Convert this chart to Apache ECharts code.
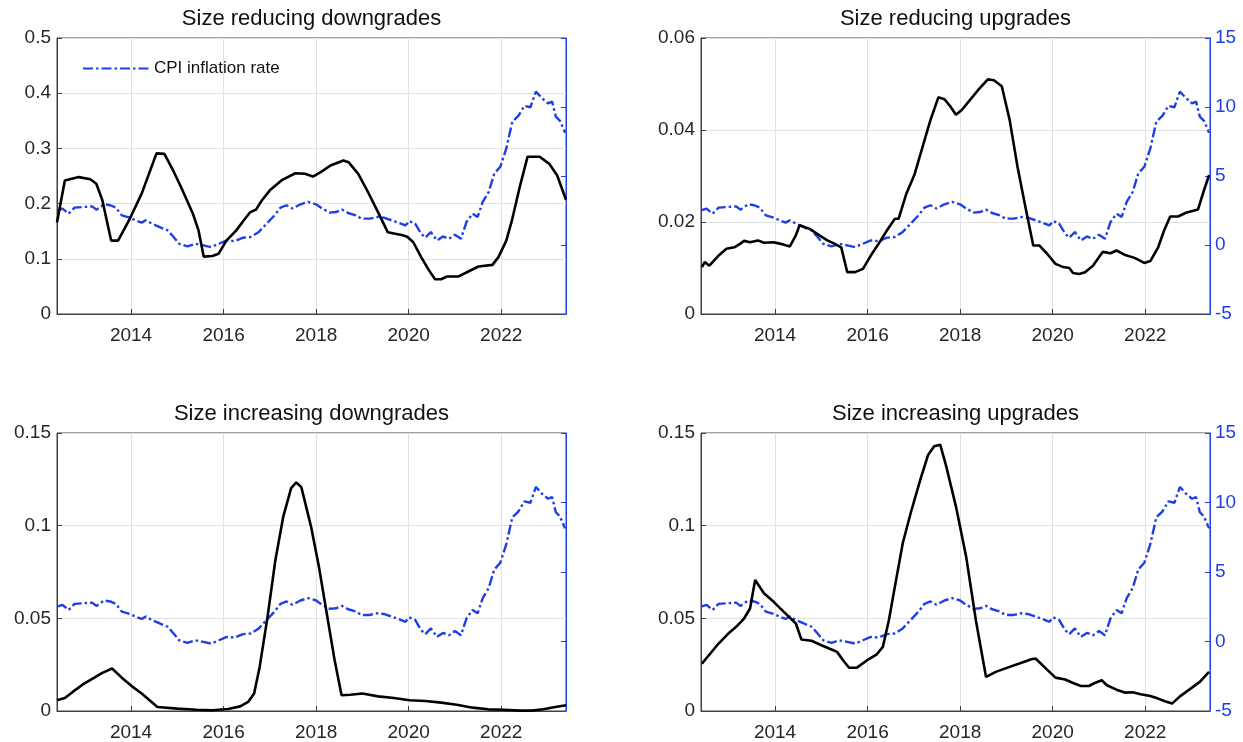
<!DOCTYPE html>
<html><head><meta charset="utf-8">
<script src="https://cdn.jsdelivr.net/npm/echarts@6/dist/echarts.min.js"></script>
<style>html,body{margin:0;padding:0;background:#fff}#c{width:1243px;height:742px}</style>
</head><body><div id="c"></div><script>
// ---- data ----
const yearTicks = [2014, 2016, 2018, 2020, 2022];
const titles = ['Size reducing downgrades', 'Size reducing upgrades', 'Size increasing downgrades', 'Size increasing upgrades'];
const cpiName = 'CPI inflation rate';

const cpiX = [2012.42,2012.52,2012.65,2012.78,2012.99,2013.16,2013.25,2013.42,2013.55,2013.67,2013.80,2013.97,2014.10,2014.23,2014.32,2014.45,2014.62,2014.79,2014.92,2015.04,2015.22,2015.39,2015.56,2015.73,2015.90,2016.07,2016.24,2016.42,2016.59,2016.76,2016.93,2017.10,2017.23,2017.36,2017.49,2017.66,2017.83,2018.00,2018.13,2018.30,2018.43,2018.56,2018.69,2018.86,2018.98,2019.16,2019.33,2019.46,2019.63,2019.80,2019.93,2020.01,2020.14,2020.27,2020.36,2020.48,2020.61,2020.74,2020.87,2021.00,2021.13,2021.25,2021.38,2021.49,2021.60,2021.73,2021.85,2021.98,2022.11,2022.24,2022.37,2022.50,2022.63,2022.75,2022.88,2023.01,2023.10,2023.18,2023.27,2023.38];
const cpiY = [2.52,2.64,2.27,2.71,2.76,2.80,2.56,2.95,2.88,2.71,2.15,1.98,1.79,1.62,1.79,1.55,1.30,1.06,0.58,0.09,-0.10,0.09,-0.03,-0.15,0.09,0.33,0.28,0.53,0.58,0.94,1.55,2.15,2.71,2.88,2.64,2.95,3.12,2.95,2.64,2.35,2.39,2.56,2.32,2.15,1.91,1.91,2.03,1.98,1.79,1.59,1.42,1.74,1.55,0.82,0.53,0.94,0.33,0.62,0.45,0.75,0.45,1.67,2.27,2.03,3.12,3.85,5.18,5.67,7.00,8.94,9.35,10.08,9.98,11.12,10.64,10.27,10.39,9.30,9.00,8.14];

const sdX = [2012.40,2012.57,2012.87,2013.12,2013.25,2013.38,2013.57,2013.72,2013.97,2014.23,2014.55,2014.72,2014.91,2015.08,2015.34,2015.46,2015.57,2015.76,2015.89,2016.06,2016.27,2016.43,2016.57,2016.70,2016.83,2017.00,2017.25,2017.55,2017.76,2017.93,2018.10,2018.31,2018.59,2018.70,2018.91,2019.12,2019.34,2019.55,2019.68,2019.85,2019.97,2020.10,2020.27,2020.44,2020.57,2020.70,2020.83,2020.95,2021.08,2021.29,2021.51,2021.81,2021.94,2022.11,2022.23,2022.40,2022.57,2022.83,2023.04,2023.21,2023.40];
const sdY = [0.166,0.242,0.248,0.244,0.236,0.206,0.133,0.133,0.172,0.218,0.291,0.290,0.260,0.230,0.181,0.151,0.104,0.105,0.109,0.133,0.151,0.169,0.184,0.189,0.206,0.224,0.242,0.255,0.254,0.249,0.257,0.269,0.278,0.275,0.254,0.221,0.184,0.148,0.146,0.143,0.140,0.130,0.103,0.079,0.063,0.063,0.068,0.068,0.068,0.077,0.086,0.089,0.103,0.133,0.169,0.230,0.285,0.285,0.272,0.251,0.207];

const suX = [2012.42,2012.48,2012.58,2012.78,2012.95,2013.12,2013.25,2013.33,2013.46,2013.63,2013.76,2013.97,2014.10,2014.32,2014.45,2014.53,2014.75,2014.96,2015.13,2015.26,2015.43,2015.56,2015.73,2015.90,2016.07,2016.24,2016.42,2016.59,2016.67,2016.84,2017.01,2017.19,2017.36,2017.53,2017.66,2017.79,2017.91,2018.04,2018.21,2018.39,2018.60,2018.73,2018.90,2019.07,2019.24,2019.41,2019.58,2019.71,2019.88,2020.06,2020.23,2020.36,2020.44,2020.57,2020.70,2020.87,2021.08,2021.25,2021.38,2021.55,2021.77,2021.98,2022.11,2022.28,2022.41,2022.54,2022.71,2022.88,2023.14,2023.27,2023.38];
const suY = [0.0102,0.0113,0.0105,0.0127,0.0142,0.0145,0.0153,0.0159,0.0156,0.0160,0.0155,0.0156,0.0153,0.0147,0.0171,0.0193,0.0185,0.0171,0.0160,0.0154,0.0145,0.0091,0.0091,0.0098,0.0127,0.0153,0.0182,0.0207,0.0207,0.0262,0.0302,0.0364,0.0422,0.0471,0.0467,0.0451,0.0433,0.0444,0.0465,0.0487,0.0510,0.0508,0.0495,0.0422,0.0320,0.0233,0.0149,0.0149,0.0131,0.0109,0.0102,0.0100,0.0089,0.0087,0.0091,0.0105,0.0135,0.0132,0.0138,0.0129,0.0122,0.0111,0.0115,0.0145,0.0182,0.0212,0.0212,0.0220,0.0227,0.0269,0.0302];

const idX = [2012.40,2012.57,2012.74,2012.95,2013.17,2013.38,2013.59,2013.80,2014.02,2014.23,2014.40,2014.57,2015.00,2015.42,2015.76,2016.10,2016.36,2016.53,2016.66,2016.78,2016.95,2017.12,2017.29,2017.46,2017.57,2017.68,2017.89,2018.06,2018.23,2018.40,2018.55,2018.74,2019.00,2019.34,2019.68,2020.02,2020.36,2020.70,2021.04,2021.38,2021.72,2022.06,2022.40,2022.66,2022.91,2023.17,2023.40];
const idY = [0.0058,0.0070,0.0103,0.0142,0.0175,0.0206,0.0229,0.0180,0.0133,0.0094,0.0058,0.0022,0.0013,0.0007,0.0004,0.0011,0.0025,0.0049,0.0094,0.0238,0.0508,0.0815,0.1049,0.1203,0.1233,0.1208,0.0995,0.0779,0.0526,0.0274,0.0085,0.0088,0.0094,0.0079,0.0070,0.0058,0.0054,0.0045,0.0034,0.0018,0.0009,0.0007,0.0002,0.0002,0.0009,0.0022,0.0031];

const iuX = [2012.42,2012.57,2012.78,2012.99,2013.16,2013.33,2013.46,2013.57,2013.76,2013.97,2014.19,2014.45,2014.57,2014.79,2015.00,2015.22,2015.34,2015.47,2015.60,2015.77,2015.99,2016.20,2016.33,2016.46,2016.59,2016.76,2016.93,2017.14,2017.31,2017.44,2017.57,2017.70,2017.91,2018.13,2018.34,2018.56,2018.77,2019.07,2019.28,2019.54,2019.63,2019.84,2020.06,2020.27,2020.44,2020.61,2020.78,2020.91,2021.06,2021.17,2021.38,2021.57,2021.73,2021.90,2022.11,2022.28,2022.41,2022.58,2022.75,2023.01,2023.18,2023.38];
const iuY = [0.0256,0.0301,0.0364,0.0418,0.0454,0.0499,0.0553,0.0707,0.0635,0.0589,0.0535,0.0472,0.0386,0.0379,0.0355,0.0332,0.0319,0.0274,0.0233,0.0234,0.0274,0.0306,0.0346,0.0490,0.0671,0.0905,0.1067,0.1248,0.1383,0.1428,0.1437,0.1320,0.1103,0.0833,0.0490,0.0184,0.0211,0.0238,0.0256,0.0279,0.0283,0.0233,0.0180,0.0170,0.0151,0.0135,0.0135,0.0151,0.0166,0.0139,0.0115,0.0099,0.0101,0.0090,0.0081,0.0067,0.0054,0.0040,0.0079,0.0126,0.0157,0.0211];

const leftMax = [0.5, 0.06, 0.15, 0.15];
const leftStep = [0.1, 0.02, 0.05, 0.05];
const rightMin = -5, rightMax = 15, rightStep = 5;

// ---- chart ----
const zip = (xs, ys) => xs.map((x, i) => [x, ys[i]]);
const blackSets = [zip(sdX, sdY), zip(suX, suY), zip(idX, idY), zip(iuX, iuY)];
const cpiData = zip(cpiX, cpiY);

const FONT = 'Liberation Sans, Arial, Helvetica, sans-serif';
const AX = '#404040';
const BLUE = '#1f3fe6';
const grids = [
  {left: 57, top: 38, width: 509, height: 276},
  {left: 701, top: 38, width: 509, height: 276},
  {left: 57, top: 433, width: 509, height: 278},
  {left: 701, top: 433, width: 509, height: 278}
];
grids.forEach(g => { g.show = true; g.borderColor = AX; g.borderWidth = 1; g.backgroundColor = 'transparent'; });

const xAxes = [], yAxes = [], series = [], titleArr = [];
for (let i = 0; i < 4; i++) {
  const g = grids[i];
  titleArr.push({text: titles[i], left: g.left + g.width / 2, top: g.top - 30, textAlign: 'center', padding: 0,
    textStyle: {fontFamily: FONT, fontSize: 22, fontWeight: 'normal', color: '#111'}});
  xAxes.push({type: 'value', gridIndex: i, min: 2012.4, max: 2023.4,
    axisLine: {lineStyle: {color: AX, width: 1}},
    axisTick: {inside: true, length: 5, customValues: yearTicks, lineStyle: {color: AX}},
    axisLabel: {customValues: yearTicks, formatter: v => String(Math.round(v)), fontFamily: FONT, fontSize: 19, color: '#262626', margin: 12},
    splitLine: {show: true, lineStyle: {color: '#e2e2e2', width: 1}}});
  yAxes.push({type: 'value', gridIndex: i, min: 0, max: leftMax[i], interval: leftStep[i], position: 'left',
    axisLine: {show: true, lineStyle: {color: AX, width: 1}},
    axisTick: {show: true, inside: true, length: 5, lineStyle: {color: AX}},
    axisLabel: {fontFamily: FONT, fontSize: 19, color: '#262626', margin: 6},
    splitLine: {show: true, lineStyle: {color: '#e2e2e2', width: 1}}});
  yAxes.push({type: 'value', gridIndex: i, min: rightMin, max: rightMax, interval: rightStep, position: 'right',
    axisLine: {show: true, lineStyle: {color: BLUE, width: 1}},
    axisTick: {show: true, inside: true, length: 5, lineStyle: {color: BLUE}},
    axisLabel: {show: i % 2 === 1, fontFamily: FONT, fontSize: 19, color: BLUE, margin: 5},
    splitLine: {show: false}});
  series.push({type: 'line', name: cpiName, xAxisIndex: i, yAxisIndex: 2 * i + 1, data: cpiData,
    symbol: 'none', z: 3, lineStyle: {color: BLUE, width: 2.4, type: [10, 3, 2.5, 3]}, itemStyle: {color: BLUE}});
  series.push({type: 'line', name: titles[i], xAxisIndex: i, yAxisIndex: 2 * i, data: blackSets[i],
    symbol: 'none', z: 4, lineStyle: {color: '#000', width: 2.6}, itemStyle: {color: '#000'}});
}

const chart = echarts.init(document.getElementById('c'), null, {renderer: 'canvas'});
chart.setOption({
  animation: false,
  backgroundColor: '#fff',
  title: titleArr,
  legend: {data: [cpiName], left: 82, top: 60, itemWidth: 66, itemHeight: 14, padding: 0,
    itemStyle: {opacity: 0, color: 'rgba(0,0,0,0)', borderWidth: 0},
    textStyle: {fontFamily: FONT, fontSize: 17, color: '#111'}},
  grid: grids,
  xAxis: xAxes,
  yAxis: yAxes,
  series: series
});
</script></body></html>
